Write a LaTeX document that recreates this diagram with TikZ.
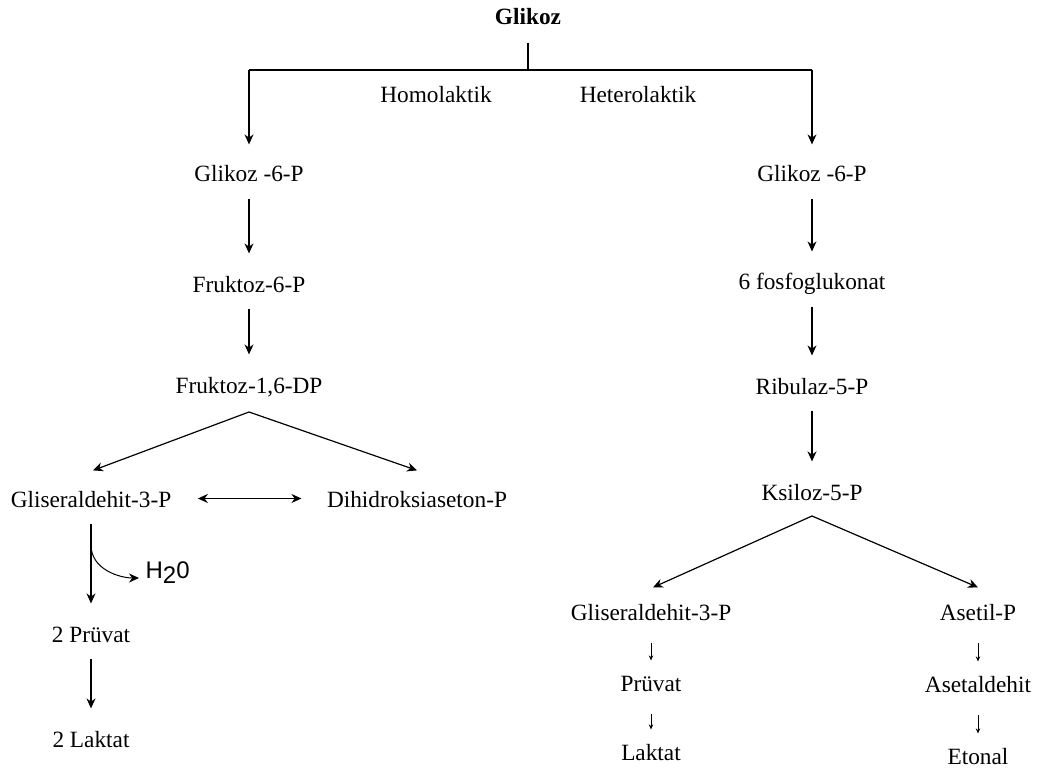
\documentclass[tikz,border=0pt]{standalone}
\usepackage{fontspec}
\setmainfont{Liberation Serif}
\newfontfamily\hfont{Liberation Sans}
\usetikzlibrary{arrows.meta}

\begin{document}
\begin{tikzpicture}[x=1pt,y=-1pt,>={Stealth[length=10pt,width=9pt]},line width=1.2pt,
                    spec/.style={font=\fontsize{23.3}{28}\selectfont,text height=15pt,text depth=4pt,inner sep=0pt,anchor=base},
                    flow/.style={->,shorten <=12pt,shorten >=23pt},
                    smallflow/.style={-{Stealth[length=5pt,width=4.5pt]},line width=1pt,shorten <=18pt,shorten >=15pt}]

  \useasboundingbox (0,0) rectangle (1039,778);

  % top
  \node[spec,font=\fontsize{23.3}{28}\selectfont\bfseries] (glikoz) at (528,25) {Glikoz};
  \node[spec] (homo) at (436,103) {Homolaktik};
  \node[spec] (hetero) at (638,103) {Heterolaktik};
  \coordinate (split) at (528,70);
  \coordinate (barL) at (249,70);
  \coordinate (barR) at (812,70);

  % homolaktik
  \node[spec] (g6pL) at (249,182) {Glikoz -6-P};
  \node[spec] (fr6p) at (249,292) {Fruktoz-6-P};
  \node[spec] (fr16dp) at (249,393) {Fruktoz-1,6-DP};
  \node[spec] (g3pL) at (91,507) {Gliseraldehit-3-P};
  \node[spec] (dhap) at (417,507) {Dihidroksiaseton-P};
  \node[spec] (pyrL) at (91,642) {2 Prüvat};
  \node[spec] (lacL) at (91,747) {2 Laktat};
  \node[font=\hfont\fontsize{24}{28}\selectfont,inner sep=0pt,anchor=base west] (h2o) at (145,578) {H\raisebox{-5pt}{2}0};
  \coordinate (h2osplit) at (91,545);

  % heterolaktik
  \node[spec] (g6pR) at (812,182) {Glikoz -6-P};
  \node[spec] (pgl) at (812,290) {6 fosfoglukonat};
  \node[spec] (ru5p) at (812,394) {Ribulaz-5-P};
  \node[spec] (xu5p) at (812,500) {Ksiloz-5-P};
  \node[spec] (g3pR) at (651,620) {Gliseraldehit-3-P};
  \node[spec] (acp) at (978,620) {Asetil-P};
  \node[spec] (pyrR) at (651,691) {Prüvat};
  \node[spec] (lacR) at (651,760) {Laktat};
  \node[spec] (acald) at (978,692) {Asetaldehit};
  \node[spec] (eth) at (978,764) {Etonal};

  \draw[shorten <=13pt] (glikoz) -- (split);
  \draw (barL) -- (barR);
  \draw[->,shorten >=22pt] (barL) -- (g6pL.north);
  \draw[->,shorten >=22pt] (barR) -- (g6pR.north);

  \draw[flow] (g6pL) -- (fr6p);
  \draw[flow] (fr6p) -- (fr16dp);
  \draw[->] ([yshift=-19pt]fr16dp.base) -- ([xshift=2pt,yshift=21pt]g3pL.north);
  \draw[->] ([yshift=-19pt]fr16dp.base) -- ([yshift=21pt]dhap.north);
  \draw[<->,shorten <=26pt,shorten >=25pt] ([yshift=3pt]g3pL.east) -- ([yshift=3pt]dhap.west);
  \draw[flow] (g3pL) -- (pyrL);
  \draw[->,line width=1pt,shorten >=6pt] (h2osplit) to[out=-90,in=180] (h2o.base west);
  \draw[flow] (pyrL) -- (lacL);

  \draw[flow] (g6pR) -- (pgl);
  \draw[flow] (pgl) -- (ru5p);
  \draw[flow,line width=1.7pt] (ru5p) -- (xu5p);
  \draw[->] ([yshift=-16pt]xu5p.base) -- ([xshift=2pt,yshift=17pt]g3pR.north);
  \draw[->] ([yshift=-16pt]xu5p.base) -- ([yshift=17pt]acp.north);
  \draw[smallflow] (g3pR) -- (pyrR);
  \draw[smallflow] (pyrR) -- (lacR);
  \draw[smallflow] (acp) -- (acald);
  \draw[smallflow] (acald) -- (eth);
\end{tikzpicture}
\end{document}
